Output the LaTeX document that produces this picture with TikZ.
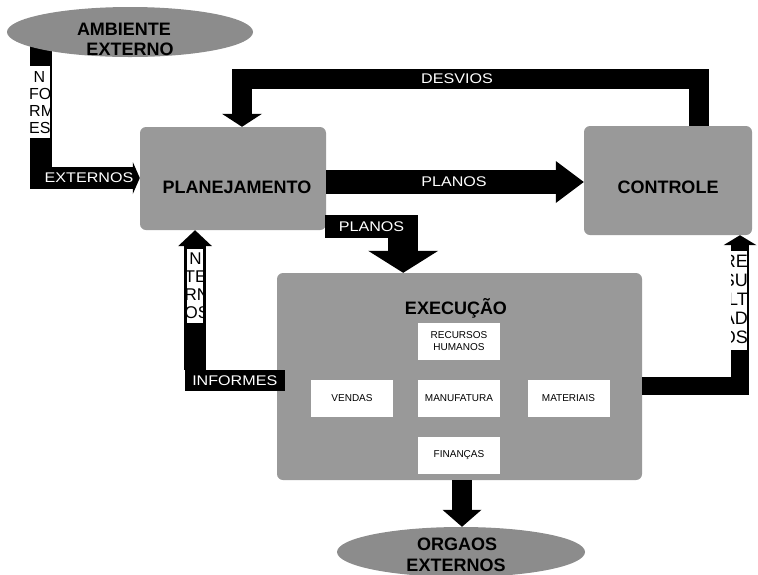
\documentclass[tikz,border=0pt]{standalone}
\usepackage{fontspec}
\setmainfont{Liberation Sans}
\newfontfamily\barfont[FakeStretch=1.15]{Liberation Sans}
\usetikzlibrary{arrows.meta,shapes.geometric}
\definecolor{screen}{gray}{0.6}
\definecolor{screendark}{gray}{0.55}
\begin{document}
\begin{tikzpicture}[x=1pt,y=-1pt,
  panel/.style={fill=screen, draw=none, rounded corners=6pt, inner sep=0},
  oval/.style={ellipse, fill=screendark, inner sep=0},
  title/.style={font=\bfseries\fontsize{18}{18}\selectfont, inner sep=0, anchor=base},
  ovaltext/.style={font=\bfseries\fontsize{18}{21}\selectfont, inner sep=0, anchor=base},
  unit/.style={fill=white, inner sep=0, minimum width=82pt, minimum height=37pt,
    font=\fontsize{10}{12}\selectfont, align=center},
  barlabel/.style={fill=black, text=white, inner sep=0, font=\barfont\fontsize{14}{14}\selectfont},
  bartext/.style={text=white, inner sep=0, font=\barfont\fontsize{14}{14}\selectfont},
  fat/.style={draw=black, line cap=butt, line join=miter},
  stacked/.style={inner sep=0, text=black}
]
\useasboundingbox (0,0) rectangle (758,574);

% the three blocks
\node[panel, minimum width=186pt, minimum height=103pt] (plan) at (233,178.5) {};
\node[panel, minimum width=168pt, minimum height=109pt] (ctrl) at (668,180.5) {};
\node[panel, minimum width=365pt, minimum height=207pt] (exec) at (459.5,376.5) {};
\node[oval, minimum width=248pt, minimum height=50pt] (org) at (461,552) {};

% informes externos: from the environment into planning
\coordinate (ambfoot) at (40.5,40);
\draw[fat, line width=22pt, -{Triangle[length=7pt,width=32pt,line width=0pt]}]
  (ambfoot) |- (plan.west |- 0,178);
\node[oval, minimum width=246pt, minimum height=50pt] (amb) at (130,32) {};

% desvios: control back to planning
\draw[fat, line width=20pt, -{Triangle[length=13pt,width=40pt,line width=0pt]}]
  (ctrl.north -| 698.5,0) |- (242,79) -- (plan.north -| 242,0);

% planos: planning to control
\draw[fat, line width=24pt, -{Triangle[length=28pt,width=42pt,line width=0pt]}]
  (plan.east |- 0,182) -- (ctrl.west |- 0,182);

% planos: planning down to execution
\node[barlabel, minimum width=93pt, minimum height=23pt] (pl2) at (371.5,226.5) {PLANOS};
\coordinate (pl2drop) at ([xshift=-15pt]pl2.south east);
\draw[fat, line width=30pt, -{Triangle[length=22pt,width=70pt,line width=0pt]}]
  (pl2drop) -- (pl2drop |- exec.north);

% informes internos: execution back to planning
\node[barlabel, minimum width=100.5pt, minimum height=21pt] (inf) at (234.75,380.5) {INFORMES};
\coordinate (infrise) at ([xshift=10.75pt]inf.north west);
\draw[fat, line width=21.5pt, -{Triangle[length=16pt,width=34pt,line width=0pt]}]
  (infrise) -- (infrise |- plan.south);

% resultados: execution to control
\draw[fat, line width=18pt, -{Triangle[length=10pt,width=33pt,line width=0pt]}]
  (exec.east |- 0,385.5) -| (ctrl.south -| 740,0);

% execution to external bodies
\draw[fat, line width=20pt, -{Triangle[length=17pt,width=39pt,line width=0pt]}]
  (exec.south -| 462,0) -- (org.north -| 462,0);

% labels on the bars
\node[bartext] (extlbl) at (89,178) {EXTERNOS};
\node[bartext] (deslbl) at (457,79) {DESVIOS};
\node[bartext] (planlbl) at (454,182) {PLANOS};

% stacked labels on the vertical bars
\begin{scope}
  \clip (30,66) rectangle (50,138);
  \fill[white] (30,66) rectangle (50,138);
  \node[stacked, anchor=north west, align=left, font=\fontsize{16}{17}\selectfont]
    (infoext) at (29,71) {\phantom{I}N\\FO\\RM\\ES};
\end{scope}
\begin{scope}
  \clip (187,249) rectangle (203,323);
  \fill[white] (187,249) rectangle (203,323);
  \node[stacked, anchor=north west, align=left, font=\fontsize{17}{18}\selectfont]
    (infoint) at (184.5,253) {\phantom{I}N\\TE\\RN\\OS};
\end{scope}
\begin{scope}
  \clip (731,251) rectangle (747,350);
  \fill[white] (731,251) rectangle (747,350);
  \node[stacked, anchor=north east, align=right, font=\fontsize{18}{19}\selectfont]
    (result) at (748,255) {RE\\SU\\LT\\AD\\OS};
\end{scope}

% block titles
\node[title] (plantxt) at (237,193) {PLANEJAMENTO};
\node[title] (ctrltxt) at (668,193) {CONTROLE};
\node[title] (exectxt) at (456,314) {EXECUÇÃO};

% oval texts
\node[ovaltext] (ambtxt1) at (124,35.5) {AMBIENTE};
\node[ovaltext] (ambtxt2) at (130,55.5) {EXTERNO};
\node[ovaltext] (orgtxt1) at (457,550) {ORGAOS};
\node[ovaltext] (orgtxt2) at (456,571) {EXTERNOS};

% functional areas inside execution
\node[unit] (rh) at (459,341.5) {RECURSOS\\HUMANOS};
\node[unit] (vend) at (352,398.5) {VENDAS};
\node[unit] (manu) at (459,398.5) {MANUFATURA};
\node[unit] (mat) at (568.5,398.5) {MATERIAIS};
\node[unit] (fin) at (459,455.5) {FINANÇAS};
\end{tikzpicture}
\end{document}
